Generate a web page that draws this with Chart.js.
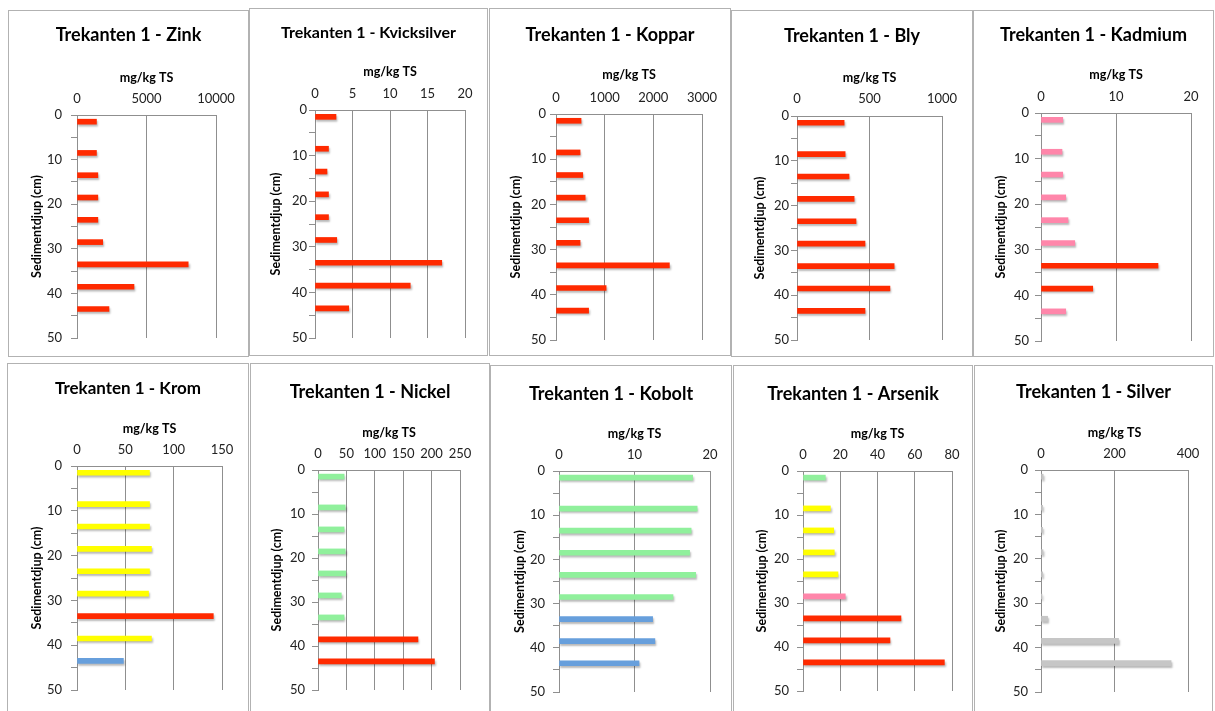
<!DOCTYPE html>
<html>
<head>
<meta charset="utf-8">
<script src="https://cdn.jsdelivr.net/npm/chart.js@4.4.1/dist/chart.umd.min.js"></script>
<style>
  html, body { margin: 0; padding: 0; background: #fff; overflow: hidden; }
  body { width: 1215px; height: 711px; position: relative; }
  .panel { position: absolute; box-sizing: border-box; border: 1px solid #b2b2b2; background: #fff; }
  .panel canvas { display: block; }
</style>
</head>
<body>
<script>
// Sediment core Trekanten 1: metal content per depth, mg/kg TS.
// Depth of each sample (cm), same for every metal.
const depthCm = [1.5, 8.5, 13.5, 18.5, 23.5, 28.5, 33.5, 38.5, 43.5];
const depthTicks = [0, 5, 10, 15, 20, 25, 30, 35, 40, 45, 50];

const zink = [1400, 1400, 1500, 1500, 1500, 1850, 8000, 4100, 2300];
const kvicksilver = [2.8, 1.8, 1.6, 1.8, 1.8, 2.9, 16.9, 12.7, 4.5];
const koppar = [515, 495, 550, 600, 670, 495, 2330, 1030, 670];
const bly = [325, 332, 359, 394, 407, 469, 670, 641, 469];
const kadmium = [2.9, 2.8, 2.9, 3.3, 3.6, 4.5, 15.6, 6.9, 3.3];
const krom = [75, 75, 75, 77, 75, 74, 141, 77, 48];
const nickel = [46, 48, 46, 48, 49, 41, 46, 176, 205];
const kobolt = [17.7, 18.3, 17.5, 17.3, 18.1, 15.1, 12.4, 12.7, 10.6];
const arsenik = [12, 14.7, 16.5, 16.8, 18.8, 22.7, 52.6, 46.7, 75.9];
const silver = [6, 4.5, 4.5, 5.5, 4.5, 2.7, 18, 211, 354];

// condition class per sample (1 very low .. 5 very high, 0 = no class)
const zinkClass = [5, 5, 5, 5, 5, 5, 5, 5, 5];
const kvicksilverClass = [5, 5, 5, 5, 5, 5, 5, 5, 5];
const kopparClass = [5, 5, 5, 5, 5, 5, 5, 5, 5];
const blyClass = [5, 5, 5, 5, 5, 5, 5, 5, 5];
const kadmiumClass = [4, 4, 4, 4, 4, 4, 5, 5, 4];
const kromClass = [3, 3, 3, 3, 3, 3, 5, 3, 1];
const nickelClass = [2, 2, 2, 2, 2, 2, 2, 5, 5];
const koboltClass = [2, 2, 2, 2, 2, 2, 1, 1, 1];
const arsenikClass = [2, 3, 3, 3, 3, 4, 5, 5, 5];
const silverClass = [0, 0, 0, 0, 0, 0, 0, 0, 0];

// x axis tick labels per metal
const zinkTicks = [0, 5000, 10000];
const kvicksilverTicks = [0, 5, 10, 15, 20];
const kopparTicks = [0, 1000, 2000, 3000];
const blyTicks = [0, 500, 1000];
const kadmiumTicks = [0, 10, 20];
const kromTicks = [0, 50, 100, 150];
const nickelTicks = [0, 50, 100, 150, 200, 250];
const koboltTicks = [0, 10, 20];
const arsenikTicks = [0, 20, 40, 60, 80];
const silverTicks = [0, 200, 400];

const classColor = { 0: "#c6c6c6", 1: "#679fdc", 2: "#90f09c", 3: "#ffff00", 4: "#ff86aa", 5: "#ff2a00" };

const FONT = "Lato, 'Open Sans', sans-serif";
const TICK_SIZE = 13, UNIT_SIZE = 12.5, YT_SIZE = 12.5, TICK_LEN = 6;
const GRID = "#8f8f8f";

// box/plot rectangles are page pixels: [left, top, right, bottom]
const panels = [
  { name: "Zink", values: zink, cls: zinkClass, ticks: zinkTicks, tsize: 18,
    box: [8, 10, 249, 357], plot: [77, 115, 216, 338], titleY: 35, unitY: 78, tickY: 99, yTitleX: 37, labelRight: 62 },
  { name: "Kvicksilver", values: kvicksilver, cls: kvicksilverClass, ticks: kvicksilverTicks, tsize: 16,
    box: [249, 8, 488, 356], plot: [315, 110, 465, 338], titleY: 33, unitY: 72, tickY: 94, yTitleX: 276, labelRight: 307 },
  { name: "Koppar", values: koppar, cls: kopparClass, ticks: kopparTicks, tsize: 18,
    box: [489, 8, 731, 356], plot: [556, 114, 702, 340], titleY: 35, unitY: 75, tickY: 98, yTitleX: 516, labelRight: 546 },
  { name: "Bly", values: bly, cls: blyClass, ticks: blyTicks, tsize: 18,
    box: [731, 10, 973, 357], plot: [797, 116, 942, 340], titleY: 36, unitY: 78, tickY: 99, yTitleX: 760, labelRight: 789 },
  { name: "Kadmium", values: kadmium, cls: kadmiumClass, ticks: kadmiumTicks, tsize: 18,
    box: [973, 10, 1214, 357], plot: [1041, 113, 1191, 341], titleY: 35, unitY: 75, tickY: 97, yTitleX: 1001, labelRight: 1029 },
  { name: "Krom", values: krom, cls: kromClass, ticks: kromTicks, tsize: 17,
    box: [7, 363, 249, 716], plot: [77, 466, 222, 690], titleY: 389, unitY: 429, tickY: 450, yTitleX: 37, labelRight: 62 },
  { name: "Nickel", values: nickel, cls: nickelClass, ticks: nickelTicks, tsize: 18,
    box: [250, 363, 490, 716], plot: [318, 470, 460, 690], titleY: 392, unitY: 433, tickY: 454, yTitleX: 277, labelRight: 305 },
  { name: "Kobolt", values: kobolt, cls: koboltClass, ticks: koboltTicks, tsize: 18,
    box: [490, 365, 732, 716], plot: [559, 471, 710, 692], titleY: 394, unitY: 434, tickY: 455, yTitleX: 520, labelRight: 545 },
  { name: "Arsenik", values: arsenik, cls: arsenikClass, ticks: arsenikTicks, tsize: 18,
    box: [733, 365, 973, 716], plot: [803, 471, 952, 691], titleY: 394, unitY: 434, tickY: 455, yTitleX: 762, labelRight: 789 },
  { name: "Silver", values: silver, cls: silverClass, ticks: silverTicks, tsize: 18,
    box: [974, 365, 1213, 716], plot: [1041, 470, 1188, 692], titleY: 392, unitY: 433, tickY: 454, yTitleX: 1001, labelRight: 1028 },
];

// Excel-style soft drop shadow under the bars
const barShadow = {
  id: "barShadow",
  beforeDatasetsDraw(chart) {
    const c = chart.ctx;
    c.save();
    c.shadowColor = "rgba(0,0,0,0.28)";
    c.shadowOffsetX = 1;
    c.shadowOffsetY = 2;
    c.shadowBlur = 2;
  },
  afterDatasetsDraw(chart) { chart.ctx.restore(); },
};

function makePanel(p) {
  const [bl, bt, br, bb] = p.box;
  const div = document.createElement("div");
  div.className = "panel";
  Object.assign(div.style, { left: bl + "px", top: bt + "px", width: (br - bl) + "px", height: (bb - bt) + "px" });
  const cw = br - bl - 2, ch = bb - bt - 2;
  const cl = bl + 1, ct = bt + 1;
  const canvas = document.createElement("canvas");
  canvas.width = cw; canvas.height = ch;
  canvas.style.width = cw + "px"; canvas.style.height = ch + "px";
  div.appendChild(canvas);
  document.body.appendChild(div);

  const titleLH = p.tsize * 1.2;
  const titlePad = p.titleY - ct - titleLH / 2;
  const titleBlock = titlePad + titleLH;
  const xScaleH = p.plot[1] - ct - titleBlock;
  const unitPad = p.unitY - (ct + titleBlock) - UNIT_SIZE * 1.2 / 2;
  const xTickPad = p.plot[1] - p.tickY - TICK_SIZE * 1.2 / 2;
  const yScaleW = p.plot[0] - cl;
  const rightW = cl + cw - p.plot[2];
  const yTitlePad = p.yTitleX - cl - YT_SIZE * 1.2 / 2;
  const yTickPad = p.plot[0] - TICK_LEN - p.labelRight;

  new Chart(canvas, {
    type: "bar",
    data: {
      datasets: [{
        data: depthCm.map((d, i) => ({ x: p.values[i], y: d })),
        backgroundColor: p.cls.map((c) => classColor[c]),
        borderWidth: 0,
        barThickness: 5,
      }],
    },
    plugins: [barShadow],
    options: {
      indexAxis: "y",
      responsive: false,
      animation: false,
      events: [],
      layout: { padding: { top: 0, left: 0, right: 0, bottom: ct + ch - p.plot[3] } },
      plugins: {
        legend: { display: false },
        tooltip: { enabled: false },
        title: {
          display: true,
          text: "Trekanten 1 - " + p.name,
          color: "#000",
          font: { family: FONT, size: p.tsize, weight: "bold" },
          padding: { top: titlePad, bottom: 0 },
        },
      },
      scales: {
        x: {
          type: "linear",
          position: "top",
          min: p.ticks[0],
          max: p.ticks[p.ticks.length - 1],
          afterBuildTicks: (s) => { s.ticks = p.ticks.map((v) => ({ value: v })); },
          afterFit: (s) => { s.height = xScaleH; },
          ticks: { color: "#222", font: { family: FONT, size: TICK_SIZE }, padding: xTickPad, maxRotation: 0, autoSkip: false, callback: (v) => String(v) },
          grid: { color: GRID, drawTicks: false, lineWidth: 1 },
          border: { color: GRID },
          title: { display: true, text: "mg/kg TS", color: "#000", font: { family: FONT, size: UNIT_SIZE, weight: "bold" }, padding: { top: unitPad, bottom: 0 } },
        },
        y: {
          type: "linear",
          reverse: true,
          min: 0,
          max: 50,
          offset: false,
          afterBuildTicks: (s) => { s.ticks = depthTicks.map((v) => ({ value: v })); },
          afterFit: (s) => { s.width = yScaleW; },
          ticks: {
            color: "#222",
            font: { family: FONT, size: TICK_SIZE },
            padding: yTickPad,
            autoSkip: false,
            callback: (v) => (v % 10 === 0 ? String(v) : ""),
          },
          grid: { drawOnChartArea: false, color: GRID, tickLength: TICK_LEN, offset: false },
          border: { color: GRID },
          title: { display: true, text: "Sedimentdjup (cm)", color: "#000", font: { family: FONT, size: YT_SIZE, weight: "bold" }, padding: { top: yTitlePad, bottom: 0 } },
        },
        // empty right-hand spacer so the title stays centred on the whole panel
        spacer: {
          type: "linear",
          position: "right",
          afterFit: (s) => { s.width = rightW; },
          ticks: { display: false },
          grid: { display: false },
          border: { display: false },
        },
      },
    },
  });
}

panels.forEach(makePanel);
</script>
</body>
</html>
